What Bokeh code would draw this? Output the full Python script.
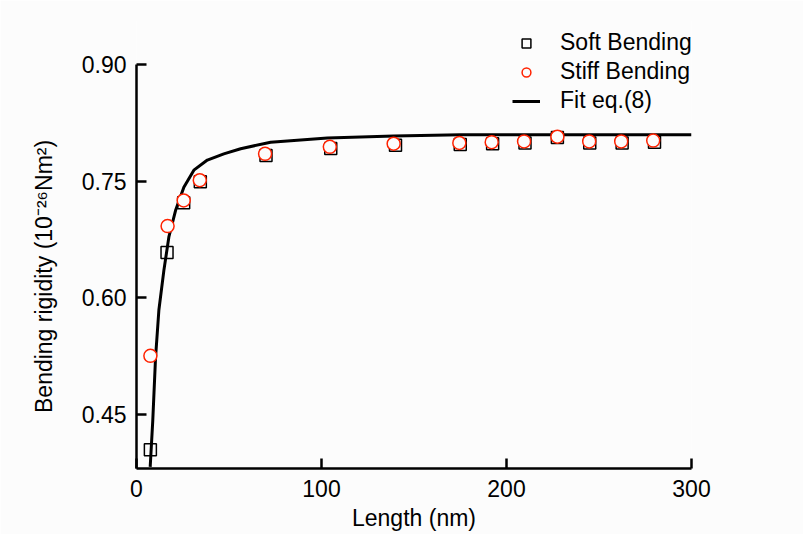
from bokeh.plotting import figure
from bokeh.models import FixedTicker, PrintfTickFormatter, Legend, LegendItem, Range1d
from bokeh.embed import file_html
from bokeh.resources import INLINE

# Data
length_soft = [7.5, 16.5, 25.5, 34.5, 70, 105, 140, 175, 192.5, 210, 227.5, 245, 262.5, 280]
rigidity_soft = [0.404, 0.658, 0.722, 0.749, 0.783, 0.792, 0.796, 0.797, 0.798, 0.799, 0.806, 0.799, 0.799, 0.800]

length_stiff = [7.5, 16.8, 25.5, 34.2, 69.5, 104.5, 139, 174.5, 192, 209.5, 227.5, 244.7, 262, 279.3]
rigidity_stiff = [0.525, 0.692, 0.725, 0.751, 0.785, 0.794, 0.798, 0.799, 0.800, 0.801, 0.807, 0.801, 0.801, 0.802]

fit_length = [7.4, 8.8, 10.3, 12.1, 14.8, 17.5, 21.1, 25.6, 31.0, 38.3, 47.2, 56.3, 72.5, 103.2, 139.1, 175.3, 230, 300]
fit_rigidity = [0.382, 0.442, 0.523, 0.584, 0.635, 0.678, 0.712, 0.742, 0.764, 0.777, 0.785, 0.7916, 0.800, 0.8053, 0.8078, 0.8096, 0.8095, 0.8095]

x_ticks = [0, 100, 200, 300]
y_ticks = [0.45, 0.60, 0.75, 0.90]

FONT = "Liberation Sans"
FS = "23px"
BG = "#fcfcfc"

p = figure(width=803, height=534, output_backend="svg", toolbar_location=None,
           x_range=Range1d(0, 300), y_range=Range1d(0.38, 0.9566),
           min_border_left=136, min_border_right=112, min_border_top=20, min_border_bottom=66,
           background_fill_color=BG, border_fill_color=BG)
p.outline_line_color = None
p.grid.visible = False

fit_r = p.line(fit_length, fit_rigidity, line_color="black", line_width=3)
soft_r = p.scatter(length_soft, rigidity_soft, marker="square", size=12,
                   line_color="black", line_width=1.5, fill_color=None)
stiff_r = p.scatter(length_stiff, rigidity_stiff, marker="circle", size=13,
                    line_color="#ff2200", line_width=1.5, fill_color=BG)

for ax in (p.xaxis[0], p.yaxis[0]):
    ax.axis_line_width = 2.5
    ax.major_tick_line_width = 2.5
    ax.major_tick_in = 10
    ax.major_tick_out = 0
    ax.minor_tick_line_color = None
    ax.major_label_text_font = FONT
    ax.major_label_text_font_size = FS
    ax.major_label_text_color = "black"
    ax.axis_label_text_font = FONT
    ax.axis_label_text_font_size = FS
    ax.axis_label_text_font_style = "normal"
    ax.axis_label_text_color = "black"

p.xaxis.ticker = FixedTicker(ticks=x_ticks)
p.xaxis.axis_label = "Length (nm)"
p.xaxis.major_label_standoff = 11
p.xaxis.axis_label_standoff = 5

p.yaxis.ticker = FixedTicker(ticks=y_ticks)
p.yaxis.formatter = PrintfTickFormatter(format="%.2f")
p.yaxis.bounds = (0.38, 0.90)
p.yaxis.axis_label = "Bending rigidity (10\u207b\u00b2\u2076Nm\u00b2)" + "\u00a0" * 10
p.yaxis.major_label_standoff = 10
p.yaxis.axis_label_standoff = 22

legend = Legend(items=[
    LegendItem(label="Soft Bending", renderers=[soft_r]),
    LegendItem(label="Stiff Bending", renderers=[stiff_r]),
    LegendItem(label="Fit eq.(8)", renderers=[fit_r]),
], location=(376, 354))
legend.background_fill_alpha = 0
legend.border_line_color = None
legend.padding = 0
legend.margin = 0
legend.spacing = 2
legend.glyph_width = 28
legend.glyph_height = 22
legend.label_standoff = 20
legend.label_text_font = FONT
legend.label_text_font_size = FS
legend.label_text_color = "black"
p.add_layout(legend, "center")

open("out.html", "w").write(file_html(p, INLINE))
